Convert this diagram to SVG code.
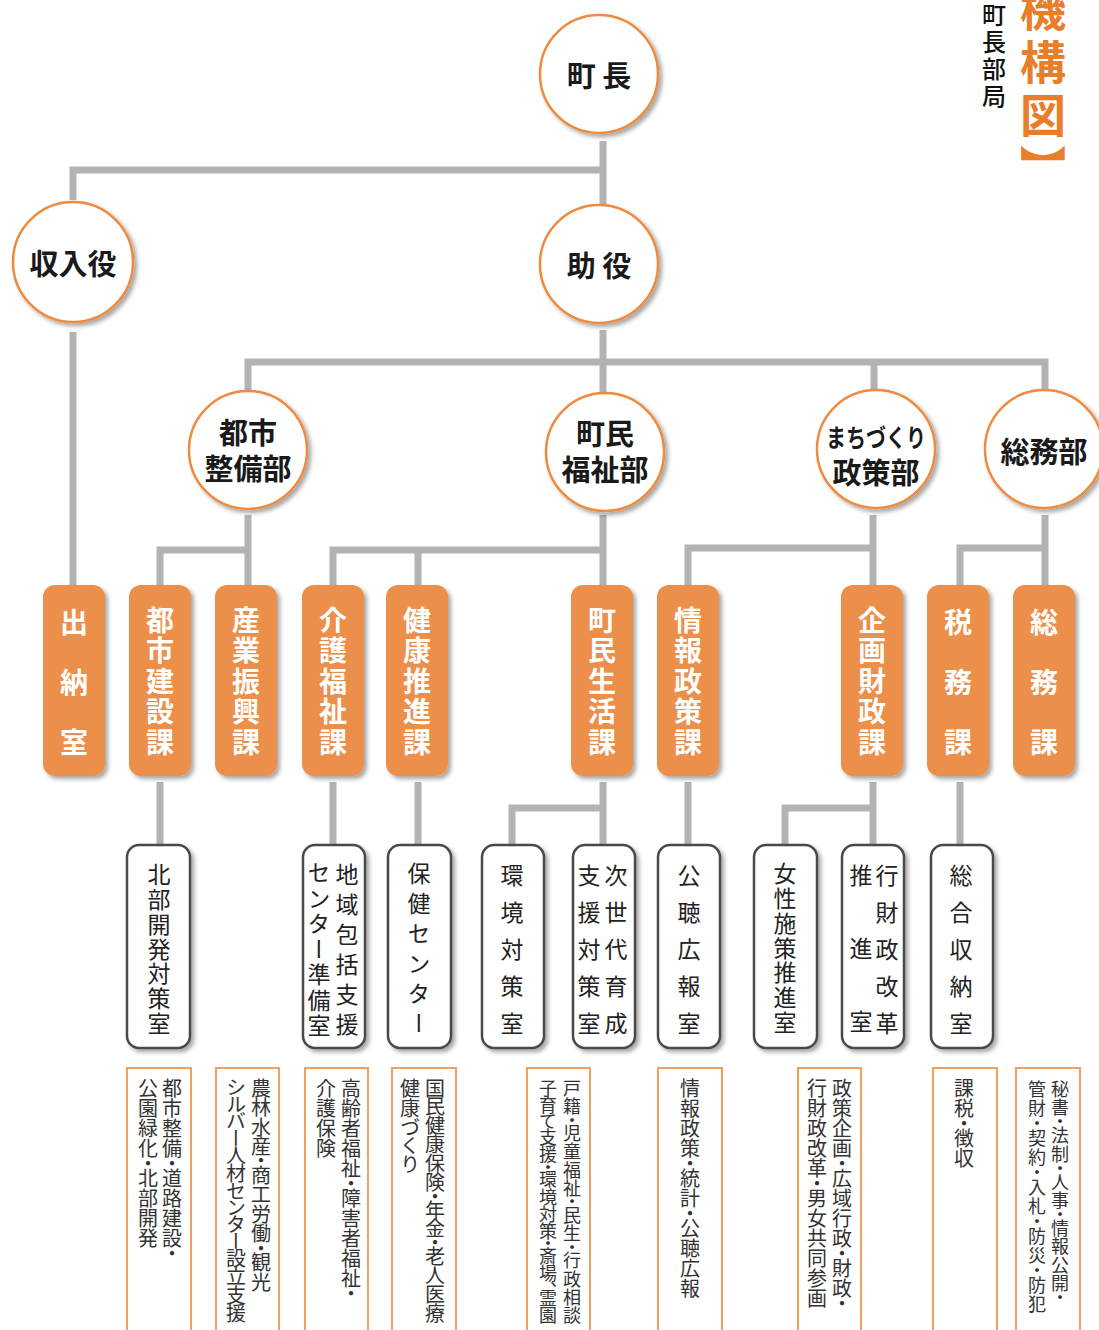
<svg xmlns="http://www.w3.org/2000/svg" width="1099" height="1330" viewBox="0 0 1099 1330">
<defs>
<filter id="sh" x="-20%" y="-20%" width="150%" height="150%">
<feDropShadow dx="3" dy="3" stdDeviation="2" flood-color="#000" flood-opacity="0.35"/>
</filter>
<style>
text{font-family:"Noto Sans CJK JP","Noto Sans CJK SC",sans-serif;}
.conn{fill:none;stroke:#b3b3b3;stroke-width:7;stroke-linejoin:miter;}
.circ{fill:#fff;stroke:#ee8b3f;stroke-width:2.5;filter:url(#sh);}
.ct{font-size:29px;font-weight:bold;fill:#1a1a1a;text-anchor:middle;dominant-baseline:central;}
.ob{fill:#ec8f4b;filter:url(#sh);}
.ot{font-size:28px;font-weight:bold;fill:#fff;writing-mode:vertical-rl;}
.wb{fill:#fff;stroke:#4a4a4a;stroke-width:2.5;filter:url(#sh);}
.wt{font-size:23px;fill:#222;writing-mode:vertical-rl;}
.bb{fill:none;stroke:#f0a060;stroke-width:2;}
.bt{font-size:20px;fill:#333;writing-mode:vertical-rl;font-feature-settings:"vpal";}
.bs{font-size:18px;}
</style>
</defs>
<rect width="1099" height="1330" fill="#fff"/>

<g id="title">
<text x="994" y="3" style="font-size:24px;font-weight:500;fill:#111;writing-mode:vertical-rl;letter-spacing:3px">町長部局</text>
<text x="1043" y="-67" style="font-size:46px;font-weight:bold;fill:#e87d2a;writing-mode:vertical-rl;letter-spacing:7px">【機構図】</text>
</g>

<g id="connectors">
<path class="conn" d="M603 141V205"/>
<path class="conn" d="M73 200V170H606"/>
<path class="conn" d="M73 332V585"/>
<path class="conn" d="M603 330V393"/>
<path class="conn" d="M248 393V362H1045V390"/>
<path class="conn" d="M874 362V390"/>
<path class="conn" d="M248 515V585"/>
<path class="conn" d="M160 585V550H251"/>
<path class="conn" d="M603 515V585"/>
<path class="conn" d="M333 585V550H606"/>
<path class="conn" d="M418 550V585"/>
<path class="conn" d="M873 515V585"/>
<path class="conn" d="M688 585V548H876"/>
<path class="conn" d="M1045 515V585"/>
<path class="conn" d="M960 585V548H1048"/>
<path class="conn" d="M160 782V845"/>
<path class="conn" d="M333 782V845"/>
<path class="conn" d="M418 782V845"/>
<path class="conn" d="M603 782V845"/>
<path class="conn" d="M512 845V808H606"/>
<path class="conn" d="M688 782V845"/>
<path class="conn" d="M873 782V845"/>
<path class="conn" d="M785 845V808H876"/>
<path class="conn" d="M960 782V845"/>
</g>

<g id="n-chocho"><circle class="circ" cx="599" cy="74" r="59"/><text class="ct" x="599" y="74">町 長</text></g>
<g id="n-shunyu"><circle class="circ" cx="73" cy="262" r="60"/><text class="ct" x="73" y="262">収入役</text></g>
<g id="n-joyaku"><circle class="circ" cx="599" cy="264" r="59"/><text class="ct" x="599" y="264">助 役</text></g>
<g id="n-toshiseibi"><circle class="circ" cx="248" cy="450" r="59"/><text class="ct" x="248" y="431">都市</text><text class="ct" x="248" y="467">整備部</text></g>
<g id="n-chomin"><circle class="circ" cx="605" cy="452" r="59"/><text class="ct" x="605" y="432">町民</text><text class="ct" x="605" y="468">福祉部</text></g>
<g id="n-machi"><circle class="circ" cx="876" cy="449" r="59"/><text class="ct" x="876" y="436" style="font-size:25px" textLength="100" lengthAdjust="spacingAndGlyphs">まちづくり</text><text class="ct" x="876" y="471">政策部</text></g>
<g id="n-somu"><circle class="circ" cx="1044" cy="449" r="59"/><text class="ct" x="1044" y="450">総務部</text></g>

<g id="k-suito"><rect class="ob" x="43" y="585" width="62" height="191" rx="12"/><text class="ot" x="74" y="608" style="letter-spacing:32px">出納室</text></g>
<g id="k-toshikensetsu"><rect class="ob" x="129" y="585" width="62" height="191" rx="12"/><text class="ot" x="160" y="606" style="letter-spacing:2.5px">都市建設課</text></g>
<g id="k-sangyo"><rect class="ob" x="215" y="585" width="62" height="191" rx="12"/><text class="ot" x="246" y="606" style="letter-spacing:2.5px">産業振興課</text></g>
<g id="k-kaigo"><rect class="ob" x="302" y="585" width="62" height="191" rx="12"/><text class="ot" x="333" y="606" style="letter-spacing:2.5px">介護福祉課</text></g>
<g id="k-kenko"><rect class="ob" x="386" y="585" width="62" height="191" rx="12"/><text class="ot" x="417" y="606" style="letter-spacing:2.5px">健康推進課</text></g>
<g id="k-chominseikatsu"><rect class="ob" x="571" y="585" width="62" height="191" rx="12"/><text class="ot" x="602" y="606" style="letter-spacing:2.5px">町民生活課</text></g>
<g id="k-joho"><rect class="ob" x="657" y="585" width="62" height="191" rx="12"/><text class="ot" x="688" y="606" style="letter-spacing:2.5px">情報政策課</text></g>
<g id="k-kikaku"><rect class="ob" x="841" y="585" width="62" height="191" rx="12"/><text class="ot" x="872" y="606" style="letter-spacing:2.5px">企画財政課</text></g>
<g id="k-zeimu"><rect class="ob" x="927" y="585" width="62" height="191" rx="12"/><text class="ot" x="958" y="608" style="letter-spacing:32px">税務課</text></g>
<g id="k-somu"><rect class="ob" x="1013" y="585" width="62" height="191" rx="12"/><text class="ot" x="1044" y="608" style="letter-spacing:32px">総務課</text></g>

<g id="s-hokubu"><rect class="wb" x="127" y="845" width="63" height="203" rx="12"/><text class="wt" x="159" y="863" style="letter-spacing:1.8px">北部開発対策室</text></g>
<g id="s-chiiki"><rect class="wb" x="303" y="845" width="62" height="203" rx="12"/><text class="wt" x="347" y="863" style="letter-spacing:7px">地域包括支援</text><text class="wt" x="319" y="861" style="letter-spacing:2.5px">センター準備室</text></g>
<g id="s-hoken"><rect class="wb" x="388" y="845" width="63" height="203" rx="12"/><text class="wt" x="419" y="862" style="letter-spacing:7px">保健センター</text></g>
<g id="s-kankyo"><rect class="wb" x="482" y="845" width="62" height="203" rx="12"/><text class="wt" x="512" y="864" style="letter-spacing:14px">環境対策室</text></g>
<g id="s-jisedai"><rect class="wb" x="573" y="845" width="62" height="203" rx="12"/><text class="wt" x="616" y="864" style="letter-spacing:14px">次世代育成</text><text class="wt" x="589" y="864" style="letter-spacing:14px">支援対策室</text></g>
<g id="s-kocho"><rect class="wb" x="658" y="845" width="62" height="203" rx="12"/><text class="wt" x="689" y="864" style="letter-spacing:14px">公聴広報室</text></g>
<g id="s-josei"><rect class="wb" x="754" y="845" width="63" height="203" rx="12"/><text class="wt" x="785" y="862" style="letter-spacing:1.8px">女性施策推進室</text></g>
<g id="s-gyozaisei"><rect class="wb" x="842" y="845" width="62" height="203" rx="12"/><text class="wt" x="887" y="864" style="letter-spacing:14px">行財政改革</text><text class="wt" x="861" y="864" style="letter-spacing:50px">推進室</text></g>
<g id="s-sogo"><rect class="wb" x="931" y="845" width="62" height="203" rx="12"/><text class="wt" x="961" y="864" style="letter-spacing:14px">総合収納室</text></g>

<g id="d-toshi"><path class="bb" d="M127 1340V1068H191V1340"/><text class="bt" x="172" y="1078">都市整備・道路建設・</text><text class="bt" x="148" y="1078">公園緑化・北部開発</text></g>
<g id="d-sangyo"><path class="bb" d="M216 1340V1068H279V1340"/><text class="bt" x="261" y="1078" textLength="214" lengthAdjust="spacing">農林水産・商工労働・観光</text><text class="bt" x="236" y="1078" textLength="245" lengthAdjust="spacing">シルバー人材センター設立支援</text></g>
<g id="d-kaigo"><path class="bb" d="M305 1340V1068H368V1340"/><text class="bt" x="351" y="1078">高齢者福祉・障害者福祉・</text><text class="bt" x="326" y="1078">介護保険</text></g>
<g id="d-kenko"><path class="bb" d="M392 1340V1068H456V1340"/><text class="bt" x="435" y="1078" textLength="245" lengthAdjust="spacing">国民健康保険・年金・老人医療</text><text class="bt" x="410" y="1078">健康づくり</text></g>
<g id="d-chomin"><path class="bb" d="M527 1340V1068H590V1340"/><text class="bt bs" x="572" y="1079" textLength="245" lengthAdjust="spacing">戸籍・児童福祉・民生・行政相談</text><text class="bt bs" x="548" y="1079" textLength="245" lengthAdjust="spacing">子育て支援・環境対策・斎場、霊園</text></g>
<g id="d-joho"><path class="bb" d="M658 1340V1068H722V1340"/><text class="bt" x="690" y="1078">情報政策・統計・公聴広報</text></g>
<g id="d-kikaku"><path class="bb" d="M798 1340V1068H861V1340"/><text class="bt" x="842" y="1078">政策企画・広域行政・財政・</text><text class="bt" x="817" y="1078">行財政改革・男女共同参画</text></g>
<g id="d-zeimu"><path class="bb" d="M933 1340V1068H997V1340"/><text class="bt" x="964" y="1078">課税・徴収</text></g>
<g id="d-somu"><path class="bb" d="M1016 1340V1068H1080V1340"/><text class="bt bs" x="1060" y="1080" textLength="222" lengthAdjust="spacing">秘書・法制・人事・情報公開・</text><text class="bt bs" x="1037" y="1080" textLength="233" lengthAdjust="spacing">管財・契約・入札・防災・防犯</text></g>
</svg>
